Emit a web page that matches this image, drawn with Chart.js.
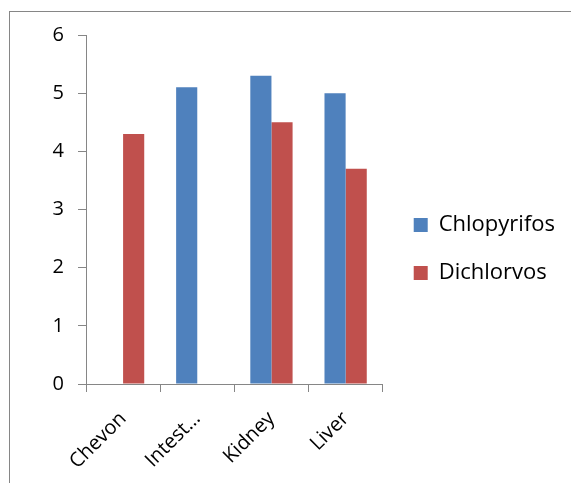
<!DOCTYPE html>
<html>
<head>
<script src="https://cdn.jsdelivr.net/npm/chart.js@4/dist/chart.umd.min.js"></script>
<style>
  body { margin: 0; background: #fff; overflow: hidden; }
  #frame { position: absolute; left: 9px; top: 11px; width: 600px; height: 520px; border: 1px solid #868686; }
  #wrap { position: absolute; left: 0; top: 0; width: 571px; height: 483px; }
</style>
</head>
<body>
<div id="frame"></div>
<div id="wrap"><canvas id="myChart" width="571" height="483"></canvas></div>

<script>
const categories = ["Chevon", "Intest\u2026", "Kidney", "Liver"];
const chlopyrifos = [null, 5.1, 5.3, 5.0];
const dichlorvos = [4.3, null, 4.5, 3.7];
const yTicks = [0, 1, 2, 3, 4, 5, 6];

const axisGrey = "#868686";
const font = { family: "'Open Sans', 'Noto Sans', sans-serif", size: 20 };
const legendFont = { family: "'Open Sans', 'Noto Sans', sans-serif", size: 22 };

// nudge the legend a few px right and up, like the original
const legendShift = {
  id: "legendShift",
  afterLayout(chart) {
    const lg = chart.legend;
    lg.left += 5; lg.right += 5;
    lg.top -= 10; lg.bottom -= 10;
  }
};

const myChart = new Chart("myChart", {
  type: "bar",
  data: {
    labels: categories,
    datasets: [
      { label: "Chlopyrifos", data: chlopyrifos, backgroundColor: "#4F81BD",
        barPercentage: 1, categoryPercentage: 0.57 },
      { label: "Dichlorvos", data: dichlorvos, backgroundColor: "#C0504D",
        barPercentage: 1, categoryPercentage: 0.57 }
    ]
  },
  options: {
    responsive: false,
    animation: false,
    layout: { padding: { top: 35, right: 11, left: 0, bottom: 0 } },
    plugins: {
      tooltip: { enabled: false },
      legend: {
        position: "right",
        maxWidth: 260,
        labels: { color: "#000", font: legendFont, boxWidth: 14, boxHeight: 14, padding: 26 }
      }
    },
    scales: {
      x: {
        grid: { display: true, drawOnChartArea: false, drawTicks: true, tickLength: 8, color: axisGrey, offset: true },
        border: { display: true, color: axisGrey },
        ticks: { color: "#000", font: font, maxRotation: 45, minRotation: 45, autoSkip: false, padding: 15 },
        afterFit: function (scale) { scale.height = 99; }
      },
      y: {
        min: 0,
        max: 6,
        afterBuildTicks: function (scale) { scale.ticks = yTicks.map(v => ({ value: v })); },
        grid: { display: true, drawOnChartArea: false, drawTicks: true, tickLength: 8, color: axisGrey },
        border: { display: true, color: axisGrey },
        ticks: { color: "#000", font: font, padding: 14 },
        afterFit: function (scale) { scale.width = 86; }
      }
    }
  },
  plugins: [legendShift]
});
</script>
</body>
</html>
